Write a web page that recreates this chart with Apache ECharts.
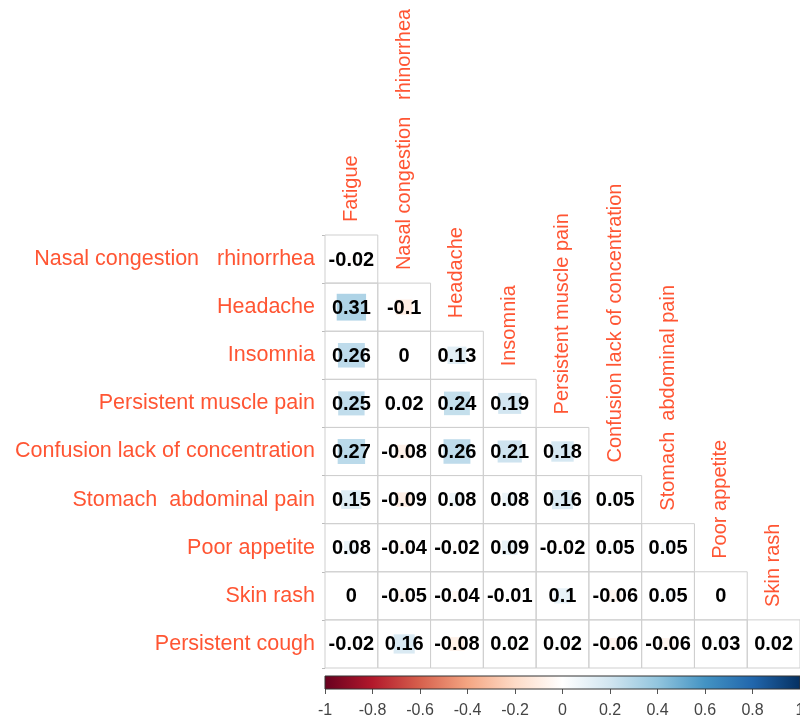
<!DOCTYPE html>
<html>
<head>
<meta charset="utf-8">
<script src="https://cdn.jsdelivr.net/npm/echarts@6/dist/echarts.min.js"></script>
<style>html,body{margin:0;padding:0;background:#fff;}#c{width:800px;height:720px;}</style>
</head>
<body>
<div id="c"></div>
<script>
// ---- data ----
const rowLabels = ["Nasal congestion   rhinorrhea", "Headache", "Insomnia", "Persistent muscle pain",
  "Confusion lack of concentration", "Stomach  abdominal pain", "Poor appetite", "Skin rash", "Persistent cough"];
const colLabels = ["Fatigue", "Nasal congestion   rhinorrhea", "Headache", "Insomnia", "Persistent muscle pain",
  "Confusion lack of concentration", "Stomach  abdominal pain", "Poor appetite", "Skin rash"];
const rowNasal = [-0.02];
const rowHeadache = [0.31, -0.1];
const rowInsomnia = [0.26, 0, 0.13];
const rowMuscle = [0.25, 0.02, 0.24, 0.19];
const rowConfusion = [0.27, -0.08, 0.26, 0.21, 0.18];
const rowStomach = [0.15, -0.09, 0.08, 0.08, 0.16, 0.05];
const rowAppetite = [0.08, -0.04, -0.02, 0.09, -0.02, 0.05, 0.05];
const rowRash = [0, -0.05, -0.04, -0.01, 0.1, -0.06, 0.05, 0];
const rowCough = [-0.02, 0.16, -0.08, 0.02, 0.02, -0.06, -0.06, 0.03, 0.02];
const colorbarTicks = [-1, -0.8, -0.6, -0.4, -0.2, 0, 0.2, 0.4, 0.6, 0.8, 1];
const rdbu = ["#67001F", "#B2182B", "#D6604D", "#F4A582", "#FDDBC7", "#FFFFFF",
  "#D1E5F0", "#92C5DE", "#4393C3", "#2166AC", "#053061"];

const rows = [rowNasal, rowHeadache, rowInsomnia, rowMuscle, rowConfusion, rowStomach, rowAppetite, rowRash, rowCough];
const cellData = [];
rows.forEach((vals, r) => vals.forEach((v, c) => cellData.push([c, r, v])));
const colLabelData = colLabels.map((_, c) => [c, c]);

const FONT = '"Liberation Sans", Arial, sans-serif';
const LABEL_COLOR = '#FF5533';

const chart = echarts.init(document.getElementById('c'), null, {renderer: 'canvas'});

function renderCell(params, api) {
  const c = api.value(0), r = api.value(1), v = api.value(2);
  const ctr = api.coord([c, r]);
  const sz = api.size([1, 1]);
  const w = sz[0], h = sz[1];
  const s = Math.sqrt(Math.abs(v));
  return {
    type: 'group',
    children: [
      {type: 'rect', shape: {x: ctr[0] - w / 2, y: ctr[1] - h / 2, width: w, height: h},
        style: {fill: null, stroke: '#cfcfcf', lineWidth: 1}},
      {type: 'rect', shape: {x: ctr[0] - w * s / 2, y: ctr[1] - h * s / 2, width: w * s, height: h * s},
        style: {fill: api.visual('color')}},
      {type: 'text', x: ctr[0], y: ctr[1] + 1,
        style: {text: String(v), fill: '#000', font: 'bold 20px ' + FONT, align: 'center', verticalAlign: 'middle'}}
    ]
  };
}

function renderColLabel(params, api) {
  const c = api.value(0), r = api.value(1);
  const ctr = api.coord([c, r]);
  const h = api.size([1, 1])[1];
  return {
    type: 'text', x: ctr[0], y: ctr[1] - h / 2 - 13, rotation: Math.PI / 2,
    style: {text: colLabels[c], fill: LABEL_COLOR, font: '20px ' + FONT, align: 'left', verticalAlign: 'middle'}
  };
}

function renderBar(params, api) {
  const p0 = api.coord([api.value(0), 0]);
  const p1 = api.coord([api.value(1), 1]);
  const stops = rdbu.map((col, i) => ({offset: i / (rdbu.length - 1), color: col}));
  return {
    type: 'rect',
    shape: {x: p0[0], y: p1[1], width: p1[0] - p0[0], height: p0[1] - p1[1]},
    style: {fill: {type: 'linear', x: 0, y: 0, x2: 1, y2: 0, colorStops: stops}, stroke: '#333', lineWidth: 1}
  };
}

chart.setOption({
  backgroundColor: '#fff',
  animation: false,
  grid: [
    {left: 325, right: 0, top: 235, height: 433, outerBoundsMode: 'none', containLabel: false},
    {left: 325, right: 0, top: 676, height: 13, outerBoundsMode: 'none', containLabel: false}
  ],
  xAxis: [
    {type: 'category', gridIndex: 0, data: colLabels, show: false},
    {type: 'value', gridIndex: 1, min: colorbarTicks[0], max: colorbarTicks[colorbarTicks.length - 1], interval: 0.2,
      axisLine: {show: false}, splitLine: {show: false},
      axisTick: {show: true, length: 5, lineStyle: {color: '#555'}},
      axisLabel: {color: '#444', fontSize: 16, fontFamily: FONT, margin: 14, showMaxLabel: true, showMinLabel: true,
        hideOverlap: false, formatter: v => String(Math.round(v * 10) / 10)}}
  ],
  yAxis: [
    {type: 'category', gridIndex: 0, data: rowLabels, inverse: true,
      axisLine: {show: false}, splitLine: {show: false},
      axisTick: {show: true, length: 3, lineStyle: {color: '#bbb'}},
      axisLabel: {color: LABEL_COLOR, fontSize: 21.5, fontFamily: FONT, margin: 10}},
    {type: 'value', gridIndex: 1, min: 0, max: 1, show: false}
  ],
  visualMap: {
    show: false, type: 'continuous', min: -1, max: 1, dimension: 2, seriesIndex: 0,
    inRange: {color: rdbu}
  },
  series: [
    {type: 'custom', xAxisIndex: 0, yAxisIndex: 0, renderItem: renderCell, data: cellData, z: 2},
    {type: 'custom', xAxisIndex: 0, yAxisIndex: 0, renderItem: renderColLabel, data: colLabelData, z: 3},
    {type: 'custom', xAxisIndex: 1, yAxisIndex: 1, renderItem: renderBar, data: [[colorbarTicks[0], colorbarTicks[colorbarTicks.length - 1]]]}
  ]
});
</script>
</body>
</html>
